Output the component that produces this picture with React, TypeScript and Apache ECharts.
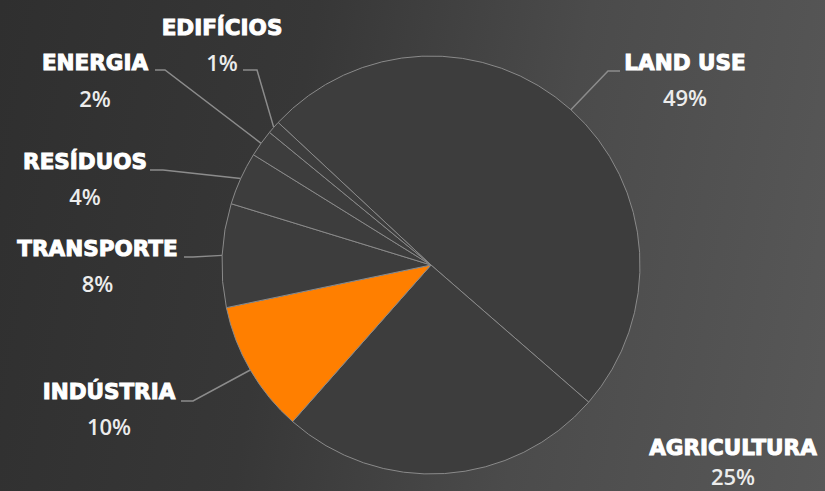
import React, { useEffect, useRef } from "react";
import * as echarts from "echarts";

const categories = ["LAND USE", "AGRICULTURA", "INDÚSTRIA", "TRANSPORTE", "RESÍDUOS", "ENERGIA", "EDIFÍCIOS"];
const values = [49.4, 25.1, 10.2, 8.0, 4.1, 2.1, 1.0];
const highlighted = ["INDÚSTRIA"];

// label anchor positions (layout only)
const labelPlacement: { x: number; y: number; elbow?: number[]; end?: number[]; tight?: boolean }[] = [
  { x: 685, y: 79.5, elbow: [608, 71], end: [620, 71] },
  { x: 733, y: 458, tight: true },
  { x: 109, y: 408.5, elbow: [193, 401], end: [181, 401] },
  { x: 97.5, y: 265.5, elbow: [193, 257], end: [184, 257] },
  { x: 85, y: 178.5, elbow: [163, 170], end: [150, 170] },
  { x: 95, y: 80, elbow: [165, 70], end: [155, 70] },
  { x: 222, y: 44.5, elbow: [257, 70], end: [243, 70] },
];

const richStyles = (nLH: number, vLH: number) => ({
  n: {
    fontFamily: "DejaVu Sans",
    fontWeight: "bold",
    fontSize: 21.5,
    color: "#ffffff",
    textBorderColor: "#ffffff",
    textBorderWidth: 1,
    lineHeight: nLH,
    align: "center",
  },
  v: { fontFamily: "Open Sans", fontWeight: 600, fontSize: 22, color: "#ececec", lineHeight: vLH, align: "center" },
});

export default function App() {
  const ref = useRef<HTMLDivElement>(null);
  useEffect(() => {
    if (!ref.current) return;
    const chart = echarts.init(ref.current, undefined, { renderer: "svg" });
    chart.setOption({
      animation: false,
      backgroundColor: "transparent",
      series: [
        {
          type: "pie",
          center: [431, 265],
          radius: 209,
          startAngle: 137,
          clockwise: true,
          avoidLabelOverlap: false,
          data: categories.map((name, i) => ({
            name,
            value: values[i],
            itemStyle: highlighted.includes(name) ? { color: "#ff7f00" } : undefined,
            labelLine: labelPlacement[i].elbow ? undefined : { show: false },
            label: labelPlacement[i].tight ? { rich: richStyles(36, 22) } : undefined,
          })),
          itemStyle: { color: "#3d3d3d", borderColor: "#8a8a8a", borderWidth: 1 },
          emphasis: { disabled: true },
          label: {
            show: true,
            position: "outside",
            formatter: (p: any) => `{n|${p.name}}\n{v|${Math.round(p.value)}%}`,
            rich: richStyles(35, 35),
          },
          labelLine: { show: true, lineStyle: { color: "#8c8c8c", width: 1.5 } },
          labelLayout: (params: any) => {
            const p = labelPlacement[params.dataIndex];
            const start = params.labelLinePoints && params.labelLinePoints[0];
            const out: any = { x: p.x, y: p.y, align: "center", verticalAlign: "middle" };
            if (p.elbow && start) out.labelLinePoints = [start, p.elbow, p.end];
            return out;
          },
        },
      ],
    });
    return () => chart.dispose();
  }, []);
  return (
    <div
      style={{
        position: "absolute",
        left: 0,
        top: 0,
        width: 825,
        height: 491,
        background: "linear-gradient(100deg, #2f2f2f 0%, #373737 35%, #4b4b4b 65%, #585858 100%)",
      }}
    >
      <div ref={ref} style={{ width: 825, height: 491 }} />
    </div>
  );
}
